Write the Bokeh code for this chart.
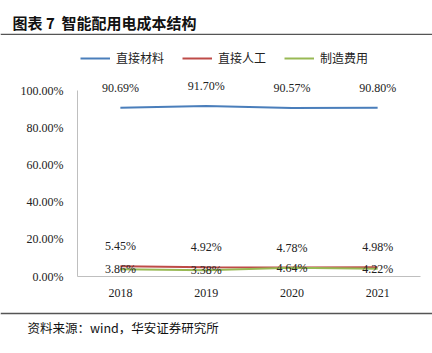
from bokeh.plotting import figure
from bokeh.models import (ColumnDataSource, FactorRange, Range1d, LabelSet, Legend, LegendItem,
                          PrintfTickFormatter, FixedTicker, Label)
from bokeh.layouts import column
from bokeh.embed import file_html
from bokeh.resources import INLINE

years = ["2018", "2019", "2020", "2021"]
material = [90.69, 91.70, 90.57, 90.80]
labor = [5.45, 4.92, 4.78, 4.98]
manufacturing = [3.86, 3.38, 4.64, 4.22]
series_names = ["直接材料", "直接人工", "制造费用"]
y_ticks = [0, 20, 40, 60, 80, 100]
title_text = "图表 7\u00a0\u00a0智能配用电成本结构"
source_text = "资料来源：wind，华安证券研究所"

colors = ["#4a7ebb", "#be4b48", "#98b954"]
num_font = "Liberation Serif"
cjk_font = "Noto Sans CJK SC"
rule_color = "#555555"

# title strip: white frame, dark 2px border strip at its bottom
head = figure(width=432, height=35, x_range=Range1d(0, 1), y_range=Range1d(0, 1),
              x_axis_type=None, y_axis_type=None, output_backend="svg", toolbar_location=None,
              min_border_left=0, min_border_right=0, min_border_top=0, min_border_bottom=2,
              border_fill_color=rule_color, background_fill_color="white", margin=0)
head.outline_line_color = None
head.grid.visible = False
head.add_layout(Label(x=12, y=11, x_units="screen", y_units="screen", text=title_text,
                      text_font=cjk_font, text_font_size="15px", text_font_style="bold",
                      text_color="#111", text_baseline="middle"))

p = figure(width=432, height=277, x_range=FactorRange(*years, range_padding=0),
           y_range=Range1d(0, 126.9), output_backend="svg", toolbar_location=None,
           min_border_left=77, min_border_right=12, min_border_top=5, min_border_bottom=36,
           margin=0)
p.outline_line_color = None
p.xgrid.grid_line_color = None
p.ygrid.grid_line_color = None

src = ColumnDataSource(dict(x=years, m=material, l=labor, f=manufacturing,
                            mt=[f"{v:.2f}%" for v in material],
                            lt=[f"{v:.2f}%" for v in labor],
                            ft=[f"{v:.2f}%" for v in manufacturing]))

r1 = p.line("x", "m", source=src, line_color=colors[0], line_width=2)
r2 = p.line("x", "l", source=src, line_color=colors[1], line_width=2)
r3 = p.line("x", "f", source=src, line_color=colors[2], line_width=2)

for col, txt, off in [("m", "mt", 20), ("l", "lt", 20), ("f", "ft", 0)]:
    ls = LabelSet(x="x", y=col, text=txt, source=src, y_offset=off, text_align="center",
                  text_baseline="middle", text_font=num_font, text_font_size="12px",
                  text_color="#222")
    p.add_layout(ls)

p.yaxis.ticker = FixedTicker(ticks=y_ticks)
p.yaxis.bounds = (0, 100)
p.yaxis.formatter = PrintfTickFormatter(format="%.2f%%")
for ax in (p.xaxis, p.yaxis):
    ax.axis_line_color = "#bfbfbf"
    ax.major_tick_line_color = None
    ax.minor_tick_line_color = None
    ax.major_label_text_font = num_font
    ax.major_label_text_font_size = "12px"
    ax.major_label_text_color = "#222"
p.yaxis.major_label_standoff = 8
p.xaxis.major_label_standoff = 6

legend = Legend(items=[LegendItem(label=series_names[0], renderers=[r1]),
                       LegendItem(label=series_names[1], renderers=[r2]),
                       LegendItem(label=series_names[2], renderers=[r3])],
                orientation="horizontal", location=(3, 210), glyph_width=30, glyph_height=12,
                label_standoff=6, spacing=18, padding=0, margin=0,
                label_text_font=cjk_font, label_text_font_size="12px", label_text_color="#222",
                border_line_color=None, background_fill_alpha=0)
p.add_layout(legend)

# source strip: dark 2px border strip at its top, white frame
foot = figure(width=432, height=41, x_range=Range1d(0, 1), y_range=Range1d(0, 1),
              x_axis_type=None, y_axis_type=None, output_backend="svg", toolbar_location=None,
              min_border_left=0, min_border_right=0, min_border_top=2, min_border_bottom=0,
              border_fill_color=rule_color, background_fill_color="white", margin=0)
foot.outline_line_color = None
foot.grid.visible = False
foot.add_layout(Label(x=27, y=26, x_units="screen", y_units="screen", text=source_text,
                      text_font=cjk_font, text_font_size="12.5px", text_color="#111",
                      text_baseline="middle"))

# keep each strip's frame independent of the chart's frame
for f in (head, p, foot):
    try:
        f.frame_align = False
    except Exception:
        pass

layout = column(head, p, foot, spacing=0)
open("out.html", "w").write(file_html(layout, INLINE))
